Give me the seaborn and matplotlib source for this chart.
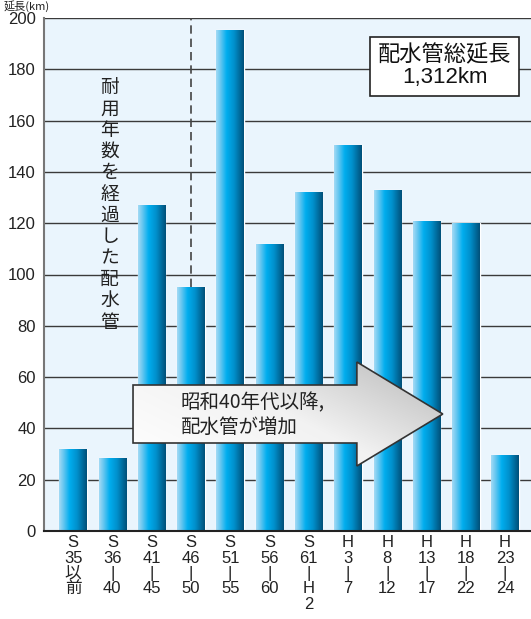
import numpy as np
import pandas as pd
import matplotlib
matplotlib.use("Agg")
import matplotlib.pyplot as plt
import seaborn as sns
from matplotlib.colors import LinearSegmentedColormap
from matplotlib.patches import Polygon

categories = ["S\n35\n以\n前", "S\n36\n|\n40", "S\n41\n|\n45", "S\n46\n|\n50", "S\n51\n|\n55",
              "S\n56\n|\n60", "S\n61\n|\nH\n2", "H\n3\n|\n7", "H\n8\n|\n12", "H\n13\n|\n17",
              "H\n18\n|\n22", "H\n23\n|\n24"]
lengths = [32, 28.5, 127, 95, 195.5, 112, 132, 150.5, 133, 121, 120, 29.5]
y_ticks = [0, 20, 40, 60, 80, 100, 120, 140, 160, 180, 200]

sns.set_theme(style="white")
FAM = ['Liberation Sans', 'Noto Sans CJK JP', 'DejaVu Sans']
JP = ['Noto Sans CJK JP', 'DejaVu Sans']
plt.rcParams['font.family'] = FAM

fig = plt.figure(figsize=(5.31, 6.19), dpi=100)
ax = fig.add_axes([44/531, 88/619, 487/531, 513/619])
ax.set_facecolor("#EAF5FD")

df = pd.DataFrame({"cat": categories, "len": lengths})
sns.barplot(data=df, x="cat", y="len", ax=ax, width=0.7, color="#00AEEF", zorder=3)

ax.set_ylim(0, 200)
ax.set_xlim(-0.74, 11.66)
ax.set_yticks(y_ticks)
ax.yaxis.grid(True, color="#3a3a3a", linewidth=1.0, zorder=1)
ax.set_axisbelow(True)

# gradient on bars
cmap = LinearSegmentedColormap.from_list("bar", [(0, "#A6DBF5"), (0.18, "#5EC4F0"), (0.38, "#00AEEF"),
                                                  (0.65, "#0090CC"), (1.0, "#004F78")])
grad = np.linspace(0, 1, 256).reshape(1, -1)
for p in list(ax.patches):
    x0, y0 = p.get_x(), p.get_y()
    w, h = p.get_width(), p.get_height()
    im = ax.imshow(grad, cmap=cmap, aspect="auto", extent=[x0, x0 + w, y0, y0 + h],
                   zorder=3.5, interpolation="bicubic")
    im.set_clip_path(p)

# dashed line
ax.plot([3, 3], [lengths[3], 200], linestyle=(0, (5, 3)), color="#444444", linewidth=1.2, zorder=4)

for s in ["top", "right"]:
    ax.spines[s].set_visible(False)
ax.spines["left"].set_color("#777777")
ax.spines["left"].set_linewidth(1.5)
ax.spines["bottom"].set_color("#222222")
ax.spines["bottom"].set_linewidth(1.5)
ax.spines["left"].set_zorder(6)
ax.spines["bottom"].set_zorder(6)

ax.set_xlabel("")
ax.set_ylabel("")
ax.tick_params(axis="y", labelsize=12, colors="#222222", length=0, pad=6)
ax.tick_params(axis="x", labelsize=12, colors="#222222", length=0, pad=3)
for t in ax.get_xticklabels():
    t.set_linespacing(1.03)
    t.set_va("top")
    t.set_family(FAM)

# vertical text
vt = "耐用年数を経過した配水管"
ax.text(0.93, 177, "\n".join(vt), ha="center", va="top", fontsize=13.5, color="#222222",
        linespacing=1.02, zorder=5, family=JP)

# total box
ax.text(9.46, 181, "配水管総延長\n1,312km", ha="center", va="center", fontsize=16, color="#111111",
        linespacing=1.05, zorder=7, family=FAM,
        bbox=dict(facecolor="white", edgecolor="#222222", linewidth=1.2, boxstyle="square,pad=0.35"))

# arrow with gradient
def px2d(xp, yp):
    return (xp - 73) / 39.3, (531 - yp) / 2.565

pts = [px2d(133, 385), px2d(357, 385), px2d(357, 362), px2d(443, 414), px2d(357, 466),
       px2d(357, 443), px2d(133, 443)]
arrow = Polygon(pts, closed=True, facecolor="none", edgecolor="#333333", linewidth=1.2, zorder=9)
ax.add_patch(arrow)
acmap = LinearSegmentedColormap.from_list("arr", ["#FFFFFF", "#F2F2F2", "#B8B8B8"])
x0, y0 = px2d(133, 466)
x1, y1 = px2d(443, 362)
aim = ax.imshow(np.tile(np.linspace(0, 1, 256), (64, 1)) * 0.6 + np.linspace(0, 1, 64).reshape(-1, 1)[::-1] * 0.4,
                cmap=acmap, aspect="auto", extent=[x0, x1, y0, y1], zorder=8, interpolation="bicubic")
clip = Polygon(pts, closed=True, transform=ax.transData, facecolor="none", edgecolor="none")
ax.add_patch(clip)
aim.set_clip_path(clip)
tx, ty = px2d(181, 415)
ax.text(tx, ty, "昭和40年代以降,\n配水管が増加", ha="left", va="center", fontsize=14,
        color="#222222", linespacing=1.2, zorder=10, family=JP)

ax.set_xlim(-0.74, 11.66)
ax.set_ylim(0, 200)

fig.text(4/531, 1 - 0.5/619, "延長(km)", ha="left", va="top", fontsize=8, color="#222222", family=JP)

fig.savefig("out.png", dpi=100)
